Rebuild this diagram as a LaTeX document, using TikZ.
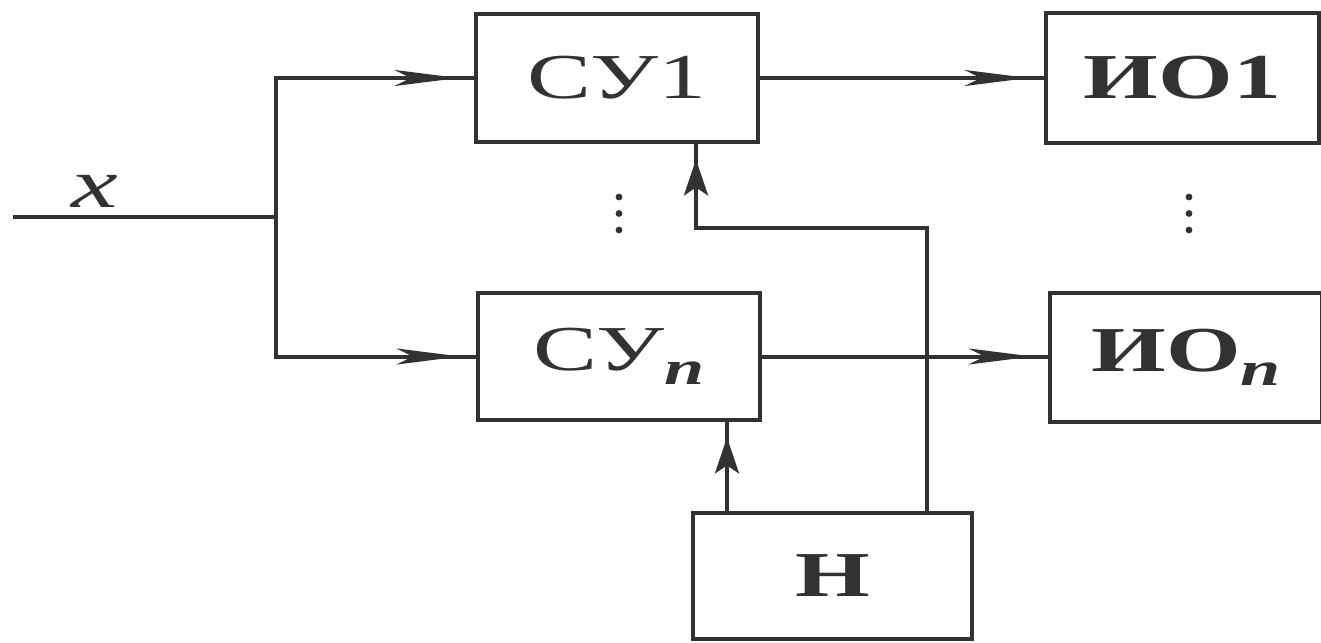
\documentclass[tikz,border=0pt]{standalone}
\usepackage{fontspec}
\setmainfont{Liberation Serif}[FakeStretch=1.5]
\usetikzlibrary{arrows.meta}
\definecolor{ink}{RGB}{50,50,50}
\newcommand\idx{\raisebox{-7pt}{\fontsize{24}{24}\selectfont\bfseries\itshape n}}
\begin{document}
\begin{tikzpicture}[x=0.5pt,y=-0.5pt,
  box/.style={draw=ink, line width=2.4pt, inner sep=0pt, text=ink, font=\fontsize{32}{36}\selectfont},
  boldbox/.style={box, font=\fontsize{32}{36}\selectfont\bfseries},
  conn/.style={draw=ink, line width=2pt},
  harrow/.style={conn, -{Stealth[length=32pt,width=8pt,inset=8pt]}, shorten >=7.5pt},
  varrow/.style={conn, -{Stealth[length=18pt,width=12pt,inset=4pt]}, shorten >=7.5pt}]
\useasboundingbox (0,0) rectangle (1321,642);
\fill[white] (0,0) rectangle (1321,642);
% boxes
\node[box, minimum width=141pt, minimum height=64pt] (su1) at (617,78) {СУ1};
\node[box, minimum width=141pt, minimum height=63.5pt] (sun) at (619,356.5) {СУ\idx};
\node[boldbox, minimum width=136.5pt, minimum height=65pt] (io1) at (1182.5,78) {ИО1};
\node[boldbox, minimum width=136pt, minimum height=64.5pt] (ion) at (1186,357.5) {ИО\idx};
\node[boldbox, minimum width=139.5pt, minimum height=63pt] (h) at (832.5,576) {Н};
% input
\node[font=\fontsize{35}{40}\selectfont\itshape, text=ink, anchor=base, inner sep=0pt] (xl) at (95,207) {x};
\coordinate (in) at (13,217);
\coordinate (j) at (276,217);
\draw[conn] (in) -- (j);
\draw[conn] (j) |- (su1.west);
\draw[harrow] (j) |- (su1.west);
\draw[conn] (j) |- (sun.west);
\draw[harrow] (j) |- (sun.west);
% outputs
\draw[conn] (su1.east) -- (su1.east -| io1.west);
\draw[harrow] (su1.east) -- (su1.east -| io1.west);
\draw[conn] (sun.east) -- (sun.east -| ion.west);
\draw[harrow] (sun.east) -- (sun.east -| ion.west);
% from H
\coordinate (bend) at (927,228);
\draw[conn] (h.north -| bend) -- (bend) -| ([xshift=39.5pt]su1.south);
\draw[varrow] (h.north -| bend) -- (bend) -| ([xshift=39.5pt]su1.south);
\draw[conn] ([xshift=54pt]sun.south |- h.north) -- ([xshift=54pt]sun.south);
\draw[varrow] ([xshift=54pt]sun.south |- h.north) -- ([xshift=54pt]sun.south);
% dots
\foreach \yy in {197,213.5,230}{
  \fill[ink] (619,\yy) circle[radius=1.7pt];
  \fill[ink] (1189,\yy) circle[radius=1.7pt];
}
\end{tikzpicture}
\end{document}
